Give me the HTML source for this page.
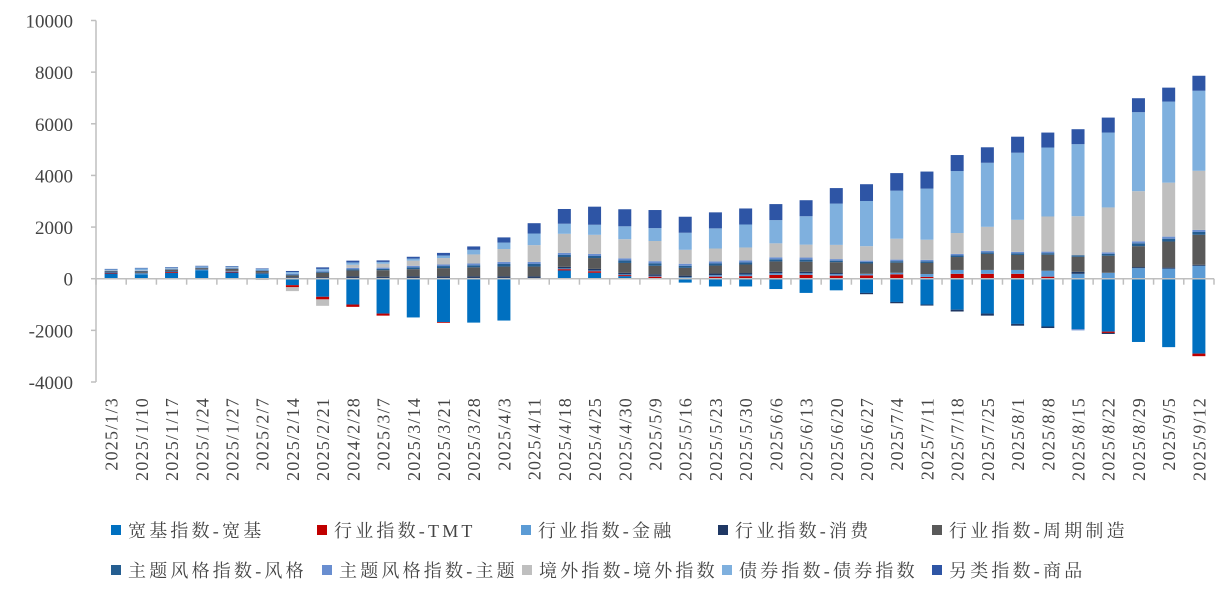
<!DOCTYPE html>
<html><head><meta charset="utf-8"><style>
body{margin:0;background:#fff;width:1224px;height:591px;overflow:hidden}
svg{display:block}
</style></head><body>
<svg id="chart" width="1224" height="591" xmlns="http://www.w3.org/2000/svg"></svg>
<script>
const categories=["2025/1/3","2025/1/10","2025/1/17","2025/1/24","2025/1/27","2025/2/7","2025/2/14","2025/2/21","2024/2/28","2025/3/7","2025/3/14","2025/3/21","2025/3/28","2025/4/3","2025/4/11","2025/4/18","2025/4/25","2025/4/30","2025/5/9","2025/5/16","2025/5/23","2025/5/30","2025/6/6","2025/6/13","2025/6/20","2025/6/27","2025/7/4","2025/7/11","2025/7/18","2025/7/25","2025/8/1","2025/8/8","2025/8/15","2025/8/22","2025/8/29","2025/9/5","2025/9/12"];
const seriesNames=["宽基指数-宽基","行业指数-TMT","行业指数-金融","行业指数-消费","行业指数-周期制造","主题风格指数-风格","主题风格指数-主题","境外指数-境外指数","债券指数-债券指数","另类指数-商品"];
const seriesColors=["#0070C0","#C00000","#5B9BD5","#1F3864","#595959","#255E91","#698ED0","#BFBFBF","#7FB0DE","#2E55A5"];
const broad=[200,170,230,330,240,180,-250,-700,-1000,-1350,-1500,-1680,-1700,-1620,0,320,230,100,0,-150,-300,-300,-400,-550,-450,-550,-900,-1000,-1200,-1350,-1750,-1850,-1950,-2050,-2450,-2650,-2900];
const tmt=[30,0,30,0,30,0,-80,-100,-90,-80,0,-30,0,0,0,50,60,40,80,0,80,100,150,150,120,130,170,70,190,190,190,80,0,-50,20,0,-100];
const finance=[10,40,20,20,20,20,30,20,30,30,30,30,30,30,30,30,30,30,30,60,60,60,60,60,60,60,60,110,150,150,150,230,190,230,390,390,500];
const consume=[15,20,20,20,20,30,30,40,60,50,60,60,60,60,60,60,60,60,60,60,60,60,60,60,40,-50,-50,-40,-70,-80,-70,-60,80,-40,40,40,40];
const cycle=[30,50,50,40,70,70,70,170,230,250,280,320,350,380,380,380,420,380,330,300,310,330,400,390,420,400,390,430,500,620,580,620,580,660,810,1010,1160];
const style=[15,20,20,20,20,20,30,40,50,50,70,80,80,100,100,80,80,100,100,80,80,80,80,80,60,60,60,60,60,60,60,60,60,70,110,110,110];
const theme=[10,10,10,10,10,10,30,30,50,50,60,60,70,80,80,80,80,80,80,80,80,80,80,80,60,50,60,60,60,60,60,60,-50,60,80,80,80];
const overseas=[10,20,10,0,20,-50,-150,-250,120,150,200,250,350,500,650,740,740,740,780,540,500,500,540,500,550,560,810,780,810,930,1240,1360,1510,1740,1940,2090,2290];
const bond=[40,70,40,40,40,50,70,80,90,70,80,100,180,250,450,390,390,500,500,660,780,890,900,1100,1600,1750,1860,1980,2400,2480,2600,2670,2790,2900,3060,3140,3100];
const commodity=[20,20,20,20,20,20,40,60,70,60,70,100,130,200,400,570,700,660,700,620,620,620,620,620,600,650,680,660,620,600,620,580,580,580,540,540,580];
const series=[broad,tmt,finance,consume,cycle,style,theme,overseas,bond,commodity];
const yTicks=[-4000,-2000,0,2000,4000,6000,8000,10000];

const NS="http://www.w3.org/2000/svg";
const svg=document.getElementById('chart');
const plotL=96,plotR=1214,yTop=20.5,yBot=382;
const yMin=-4000,yMax=10000;
function y(v){return yBot-(v-yMin)/(yMax-yMin)*(yBot-yTop);}
const step=(plotR-plotL)/categories.length;
function xc(i){return plotL+step*(i+0.5);}
function mk(tag,attrs){const e=document.createElementNS(NS,tag);for(const k in attrs)e.setAttribute(k,attrs[k]);svg.appendChild(e);return e;}
const serif='"Liberation Serif","Noto Serif CJK SC",serif';

let ax=mk('line',{x1:plotL,y1:yTop,x2:plotL,y2:yBot,stroke:'#bfbfbf','stroke-width':1.5});


yTicks.forEach(t=>{
  const tk=mk('line',{x1:plotL-5,y1:y(t),x2:plotL,y2:y(t),stroke:'#bfbfbf','stroke-width':1.5});
  
  
  const tx=mk('text',{x:73,y:y(t)+7,'text-anchor':'end','font-family':serif,'font-size':19,fill:'#444'});
  tx.textContent=t;
  
  
});

const bw=13;
categories.forEach((c,i)=>{
  let pos=0,neg=0;
  series.forEach((s,k)=>{
    const v=s[i]; if(!v) return;
    let y0,y1;
    if(v>0){y0=y(pos+v);y1=y(pos);pos+=v;}else{y0=y(neg);y1=y(neg+v);neg+=v;}
    const r=mk('rect',{x:xc(i)-bw/2,y:y0,width:bw,height:Math.max(0.5,y1-y0),fill:seriesColors[k]});
    
    
  });
});

let zl=mk('line',{x1:plotL,y1:y(0),x2:plotR,y2:y(0),stroke:'#bfbfbf','stroke-width':1.5});


for(let i=0;i<=categories.length;i++){
  const tk=mk('line',{x1:plotL+step*i,y1:y(0),x2:plotL+step*i,y2:y(0)+6,stroke:'#bfbfbf','stroke-width':1.5});
  
  
}
categories.forEach((c,i)=>{
  const tx=mk('text',{x:0,y:0,'text-anchor':'end','font-family':serif,'font-size':18,'letter-spacing':1.2,fill:'#444',transform:`translate(${xc(i)+6.5},397) rotate(-90)`});
  tx.textContent=c;
  
  
});

const legX=[[111,317,521,718,932],[111,322,522,722,932]];
seriesNames.forEach((n,k)=>{
  const row=Math.floor(k/5),col=k%5;
  const lx=legX[row][col],ly=row?570:530;
  const sq=mk('rect',{x:lx,y:ly-5,width:10,height:10,fill:seriesColors[k]});
  
  
  const tx=mk('text',{x:lx+17,y:ly+7,'font-family':serif,'font-size':18,'letter-spacing':3.2,fill:'#444'});
  tx.textContent=n;
  
  
});
</script>
</body></html>
